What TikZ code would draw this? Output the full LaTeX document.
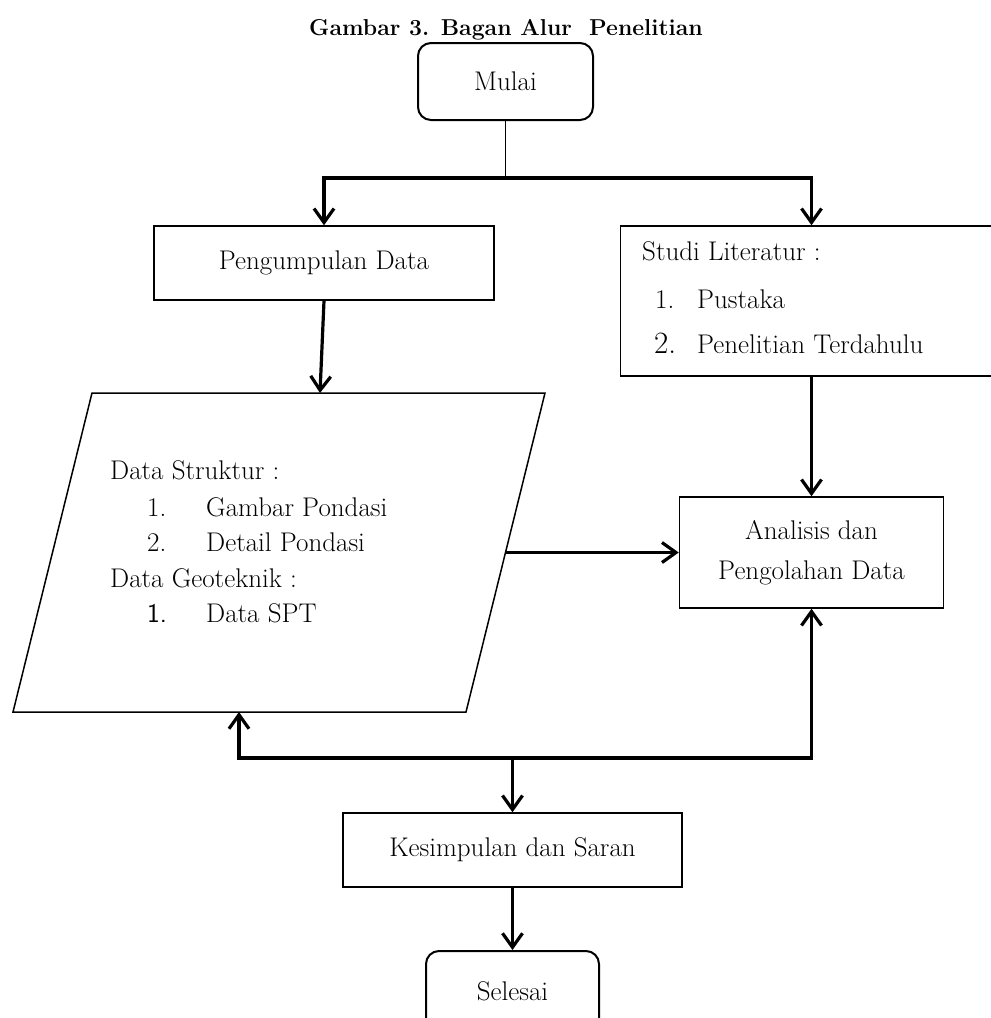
\documentclass[tikz,border=0pt]{standalone}
\usepackage{fontspec}
\usetikzlibrary{arrows.meta,calc}
\begin{document}
\begin{tikzpicture}[x=1pt,y=-1pt,
  every node/.style={font=\fontsize{27}{40}\selectfont, inner sep=0pt},
  box/.style={draw, line width=1.5pt, rectangle, inner sep=0pt},
  rbox/.style={draw, line width=2pt, rounded corners=13pt, inner sep=0pt},
  txt/.style={anchor=base west},
  conn/.style={line width=3.2pt, -{Straight Barb[length=14pt,width=20pt]}},
  conntwo/.style={line width=3.2pt, {Straight Barb[length=14pt,width=20pt]}-{Straight Barb[length=14pt,width=20pt]}},
  thinline/.style={line width=1.6pt}]
\useasboundingbox (0,0) rectangle (991,1018);
% title
\node[anchor=base, font=\fontsize{23}{28}\selectfont\bfseries] (title) at (506,35) {Gambar 3. Bagan Alur\ \ Penelitian};
% start
\node[rbox, minimum width=175pt, minimum height=77pt] (mulai) at (505.5,81.5) {Mulai};
\coordinate (split) at (505.5,178);
% pengumpulan data
\node[box, minimum width=340pt, minimum height=74pt] (pd) at (324,263) {Pengumpulan Data};
% studi literatur
\node[box, minimum width=382pt, minimum height=150pt] (sl) at (811.5,301) {};
\node[txt] (slt) at (642,260) {Studi Literatur :};
\node[txt] (sln1) at (655,308) {1.};
\node[txt] (sli1) at (697,308) {Pustaka};
\node[txt, font=\fontsize{31}{40}\selectfont] (sln2) at (654,353) {2.};
\node[txt] (sli2) at (697,353) {Penelitian Terdahulu};
% parallelogram (data)
\coordinate (p1) at (92,393);
\coordinate (p2) at (545,393);
\coordinate (p3) at (466,712);
\coordinate (p4) at (13,712);
\draw[line width=1.5pt] (p1) -- (p2) -- (p3) -- (p4) -- cycle;
\coordinate (paraTop) at (320,393);
\coordinate (paraRight) at (505,552.5);
\coordinate (paraBot) at (239,712);
\node[txt] (ds) at (110,479) {Data Struktur :};
\node[txt] (dsn1) at (147,516) {1.};
\node[txt] (dsi1) at (206,516) {Gambar Pondasi};
\node[txt] (dsn2) at (147,551) {2.};
\node[txt] (dsi2) at (206,551) {Detail Pondasi};
\node[txt] (dg) at (110,587) {Data Geoteknik :};
\node[txt, font=\fontsize{27}{40}\selectfont\sffamily] (dgn1) at (147,622) {1.};
\node[txt] (dgi1) at (206,622) {Data SPT};
% analisis
\node[box, minimum width=264pt, minimum height=111pt, align=center] (an) at (811.5,552.5) {Analisis dan\\Pengolahan Data};
% kesimpulan
\node[box, minimum width=339pt, minimum height=74pt] (ks) at (512.5,850) {Kesimpulan dan Saran};
% selesai
\node[rbox, minimum width=173pt, minimum height=110pt, anchor=north] (sel) at (512.5,950) {};
\node[anchor=base] (selt) at (512.5,1000) {Selesai};
% bottom junction
\coordinate (bl) at (239,758);
\coordinate (br) at (811.5,758);
\coordinate (bm) at (512.5,756);
% connectors
\draw[thinline] (mulai.south) -- (split);
\draw[conn] (split) -| (pd.north);
\draw[conn] (split) -| (sl.north);
\draw[conn] (pd.south) -- (paraTop);
\draw[conn] (sl.south) -- (an.north);
\draw[conn] (paraRight) -- (an.west);
\draw[conntwo] (paraBot) -- (bl) -- (br) -- (an.south);
\draw[conn] (bm) -- (ks.north);
\draw[conn] (ks.south) -- (sel.north);
\end{tikzpicture}
\end{document}
